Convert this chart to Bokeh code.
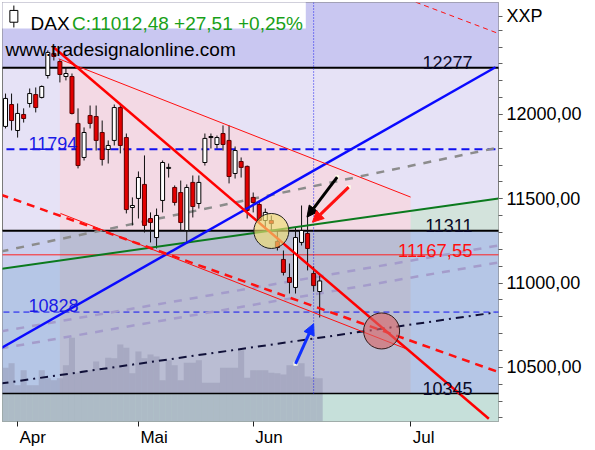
from bokeh.plotting import figure
from bokeh.models import Range1d, FixedTicker, Label, Arrow, NormalHead
from bokeh.embed import file_html
from bokeh.resources import INLINE

# ---------------- data (bar index = trading day) ----------------
opens = [11929, 12059, 11905, 12000, 12065, 12118, 12101, 12231, 12362, 12314, 12225, 12225, 11947, 11745,
         11994, 11988, 11893, 11792, 11846, 12041, 11863, 11448, 11502, 11585, 11383, 11270, 11490, 11680,
         11567, 11537, 11312, 11597, 11472, 11715, 11863, 11822, 11887, 11846, 11650, 11721, 11692, 11508,
         11466, 11371, 11371, 11247, 11140, 11033, 10974, 11241, 11294, 11057, 10950]
highs = [12124, 12124, 12065, 12036, 12154, 12160, 12172, 12380, 12397, 12326, 12279, 12243, 12036, 11923,
         12053, 12053, 11964, 11846, 12059, 12065, 11887, 11508, 11662, 11757, 11419, 11442, 11727, 11709,
         11579, 11608, 11585, 11638, 11638, 11887, 11887, 11875, 11935, 11935, 11810, 11745, 11697, 11537,
         11490, 11442, 11401, 11312, 11193, 11116, 11330, 11460, 11401, 11098, 11045]
lows = [11917, 11905, 11863, 11952, 12041, 12012, 12095, 12213, 12320, 12190, 12202, 12000, 11680, 11727,
        11917, 11786, 11697, 11709, 11816, 11769, 11413, 11342, 11383, 11300, 11241, 11205, 11419, 11626,
        11460, 11312, 11241, 11389, 11442, 11697, 11798, 11798, 11786, 11591, 11620, 11626, 11383, 11419,
        11359, 11324, 11312, 11193, 11045, 10938, 10938, 11223, 11075, 10950, 10796]
closes = [12095, 11964, 12006, 11976, 12124, 12041, 12166, 12368, 12344, 12237, 12243, 12006, 11697, 11893,
          11947, 11846, 11733, 11816, 12041, 11816, 11436, 11460, 11626, 11342, 11359, 11401, 11715, 11686,
          11478, 11359, 11567, 11454, 11597, 11858, 11869, 11863, 11822, 11632, 11786, 11686, 11431, 11478,
          11371, 11419, 11353, 11211, 11063, 11004, 11270, 11312, 11205, 10984.97, 11012.48]
volume = [86, 93, 58, 82, 58, 58, 82, 69, 66, 69, 90, 134, 78, 82, 82, 96, 82, 102, 101, 123, 118, 77, 112,
          101, 107, 104, 66, 98, 90, 66, 94, 94, 98, 62, 62, 62, 86, 86, 86, 114, 70, 82, 82, 82, 78, 77, 75,
          90, 90, 93, 72, 70, 69]

month_ticks = [2, 22, 41, 67]          # first trading day of each month
month_label_pos = [4.5, 24.6, 43.6, 69.2]
month_names = ["Apr", "Mai", "Jun", "Jul"]
price_ticks = [10500, 11000, 11500, 12000]
minor_price_ticks = list(range(10200, 12600, 100))
unit_label = "XXP"
unit_label_pos = 12582

level_top = 12277
level_mid = 11311
level_low = 10345
level_last = 11167.55
level_blue_hi = 11794
level_blue_lo = 10828

# drawn trend lines: (bar index, price) end points
red_trend_x = [8, 80];          red_trend_y = [12397, 10195]
chan_top_x = [8.8, 67.05];      chan_top_y = [12330, 11510]
chan_bot_x = [9.1, 66.2];       chan_bot_y = [11413, 10612]
red_dash_x = [-0.83, 81.6];     red_dash_y = [11525, 10472]
red_dash2_x = [67.9, 81.6];     red_dash2_y = [12666, 12480]
blue_x = [-0.83, 81.1];         blue_y = [10612, 12280]
green_x = [-0.83, 81.6];        green_y = [11084, 11502]
grey_x = [-0.83, 81.6];         grey_y = [11187, 11804]
lav1_x = [-0.83, 81.6];         lav1_y = [10612, 11122]
lav2_x = [-0.83, 81.6];         lav2_y = [10713, 11223]
dashdot_x = [-0.83, 81.1];      dashdot_y = [10404, 10826]
marker_bar = 51
zone_start, zone_end = 9, 67.05

circle_x = [44.0, 62.25];       circle_y = [11309, 10716]
arrow_x0 = [54.9, 56.8, 48.0];  arrow_y0 = [11628, 11569, 10521]
arrow_x1 = [49.9, 50.8, 51.0];  arrow_y1 = [11391, 11361, 10759]
arrow_colors = ["#000000", "#FF1010", "#1030FF"]

# ---------------- figure ----------------
X0, X1 = -0.5, 81.6
Y0, Y1 = 10179, 12664
FONT = "Liberation Sans"

p = figure(width=595, height=450, x_range=Range1d(X0, X1), y_range=Range1d(Y0, Y1),
           y_axis_location="right", output_backend="svg", toolbar_location=None,
           min_border_left=2, min_border_top=2, min_border_right=97, min_border_bottom=29)
p.extra_y_ranges = {"vol": Range1d(0, 670)}
p.background_fill_color = "#E6E2F6"
p.border_fill_color = "white"
p.outline_line_color = "#7A7A7A"
p.xgrid.visible = False
p.ygrid.visible = False

ya = p.yaxis[0]
ya.ticker = FixedTicker(ticks=price_ticks + [unit_label_pos], minor_ticks=minor_price_ticks)
overrides = {t: f"{t:.2f}".replace(".", ",") for t in price_ticks}
overrides[unit_label_pos] = unit_label
ya.major_label_overrides = overrides
ya.major_label_text_font = FONT
ya.major_label_text_font_size = "18px"
ya.major_label_text_color = "#000000"
ya.major_label_standoff = 4
ya.major_tick_in = 0
ya.major_tick_out = 4
ya.minor_tick_in = 0
ya.minor_tick_out = 4
ya.axis_line_color = None
ya.major_tick_line_color = "#606060"
ya.minor_tick_line_color = "#606060"

xa = p.xaxis[0]
xa.ticker = FixedTicker(ticks=month_label_pos, minor_ticks=month_ticks)
xa.major_label_overrides = dict(zip(month_label_pos, month_names))
xa.major_label_text_font = FONT
xa.major_label_text_font_size = "17px"
xa.major_label_text_color = "#000000"
xa.major_label_standoff = 1
xa.major_tick_in = 0
xa.major_tick_out = 0
xa.major_tick_line_color = None
xa.minor_tick_in = 0
xa.minor_tick_out = 5
xa.minor_tick_line_color = "#202020"
xa.axis_line_color = None


def line_at(x, xs, ys):
    return ys[0] + (x - xs[0]) * (ys[1] - ys[0]) / (xs[1] - xs[0])


EX0, EX1 = -2, 84
# background zones
p.quad(left=EX0, right=EX1, bottom=level_top, top=13000, color="#C9C7F1", line_color=None)
cross = green_x[0] + (level_mid - green_y[0]) * (green_x[1] - green_x[0]) / (green_y[1] - green_y[0])
xs3 = [EX0, cross, EX1]
p.varea(x=xs3, y1=[level_low] * 3, y2=[min(level_mid, line_at(x, green_x, green_y)) for x in xs3],
        color="#B5C6E6")
p.varea(x=[EX0, cross], y1=[line_at(EX0, green_x, green_y), level_mid], y2=[level_mid, level_mid],
        color="#CACFEE")
p.varea(x=[cross, EX1], y1=[level_mid, level_mid], y2=[level_mid, line_at(EX1, green_x, green_y)],
        color="#D3E3DC")
p.varea(x=[zone_start, zone_end], y1=[level_mid, level_mid],
        y2=[line_at(zone_start, chan_top_x, chan_top_y), line_at(zone_end, chan_top_x, chan_top_y)],
        color="#F3D9E4")
p.quad(left=zone_start, right=zone_end, bottom=level_low, top=level_mid, color="#BABDD3", line_color=None)
p.quad(left=EX0, right=EX1, bottom=10000, top=level_low, color="#C6E0DA", line_color=None)

# volume
idx = list(range(len(opens)))
p.vbar(x=idx, width=1.0, top=volume, bottom=0, y_range_name="vol", color="#9496B2", alpha=0.5,
       line_color=None)

# header box with candle icon
hdr_bottom = 12510
p.quad(left=EX0, right=49.7, bottom=hdr_bottom, top=13000, color="white", line_color=None)
p.segment(x0=[1.38], y0=[12516], x1=[1.38], y1=[12646], line_color="black", line_width=1)
p.quad(left=[0.72], right=[2.04], bottom=[12547], top=[12617], fill_color="white", line_color="black")

# horizontal levels
p.segment(x0=[EX0, EX0], y0=[level_top, level_mid], x1=[EX1, EX1], y1=[level_top, level_mid],
          line_color="black", line_width=2)
p.segment(x0=[EX0], y0=[level_low], x1=[EX1], y1=[level_low], line_color="black", line_width=1.5)
p.segment(x0=[EX0], y0=[level_last], x1=[EX1], y1=[level_last], line_color="#FF2020", line_width=1)
p.segment(x0=[EX0], y0=[level_blue_hi], x1=[EX1], y1=[level_blue_hi], line_color="#1010F0",
          line_width=2, line_dash="8 5")
p.segment(x0=[EX0], y0=[level_blue_lo], x1=[EX1], y1=[level_blue_lo], line_color="#1010F0",
          line_width=1, line_dash="6 4")
p.segment(x0=[marker_bar], y0=[level_low], x1=[marker_bar], y1=[13000], line_color="#2020F0",
          line_width=1, line_dash="1 2")

# faint channel lines
p.line(lav1_x, lav1_y, line_color="#A49CCB", line_width=2.5, line_dash="8 8")
p.line(lav2_x, lav2_y, line_color="#A49CCB", line_width=2.5, line_dash="8 8")
p.line(grey_x, grey_y, line_color="#8C8C8C", line_width=2.5, line_dash="8 8")

# candles
up = [c >= o for o, c in zip(opens, closes)]
p.segment(x0=idx, y0=lows, x1=idx, y1=highs, line_color="#101010", line_width=1)
p.vbar(x=idx, width=0.66, top=[max(o, c) for o, c in zip(opens, closes)],
       bottom=[min(o, c) for o, c in zip(opens, closes)],
       fill_color=["white" if u else "#E30000" for u in up],
       line_color=["#000000" if u else "#5A0000" for u in up], line_width=1)

# trend lines
p.line(dashdot_x, dashdot_y, line_color="#101038", line_width=2, line_dash="8 5 2 5")
p.line(green_x, green_y, line_color="#0B7A1E", line_width=2)
p.line(blue_x, blue_y, line_color="#0A0AFF", line_width=2.5)
p.line(chan_top_x, chan_top_y, line_color="#FF1010", line_width=1)
p.line(chan_bot_x, chan_bot_y, line_color="#FF1010", line_width=1)
p.line(red_dash_x, red_dash_y, line_color="#FF1010", line_width=2.5, line_dash="8 6")
p.line(red_dash2_x, red_dash2_y, line_color="#FF1010", line_width=1, line_dash="5 4")
p.line(red_trend_x, red_trend_y, line_color="#FF0000", line_width=2.5)

# circles
p.scatter(x=[circle_x[0]], y=[circle_y[0]], size=35, marker="circle", fill_color="#F0DE72",
          fill_alpha=0.65, line_color="#202020", line_width=1)
p.scatter(x=[circle_x[1]], y=[circle_y[1]], size=36, marker="circle", fill_color="#DA6464",
          fill_alpha=0.62, line_color="#301818", line_width=1)

# arrows
for x0, y0, x1, y1, c in zip(arrow_x0, arrow_y0, arrow_x1, arrow_y1, arrow_colors):
    p.add_layout(Arrow(end=NormalHead(size=11, fill_color=c, line_color=c), x_start=x0, y_start=y0,
                       x_end=x1, y_end=y1, line_color=c, line_width=3))
p.scatter(x=arrow_x0, y=arrow_y0, size=4, marker="square", fill_color="#FFFFE8", line_color=None)


# texts
def lab(x, y, text, color="#0A0A28", size="18px", align="left", baseline="alphabetic"):
    p.add_layout(Label(x=x, y=y, text=text, text_color=color, text_font=FONT, text_font_size=size,
                       text_align=align, text_baseline=baseline))


last = closes[-1]
chg = last - closes[-2]
pct = chg / closes[-2] * 100
lab(4.14, 12540, "DAX", color="#000000", size="19px")
lab(11.0, 12540, ("C:%.2f +%.2f +%.2f%%" % (last, chg, pct)).replace(".", ","), color="#18A018",
    size="19px")
lab(0.0, 12385, "www.tradesignalonline.com", color="#000000", size="19px")

lab(77.3, level_top + 31, f"{level_top}", align="right")
lab(77.3, level_mid + 31, f"{level_mid}", align="right")
lab(77.3, level_low + 30, f"{level_low}", align="right")
lab(77.3, level_last + 26, f"{level_last:.2f}".replace(".", ","), color="#FF1010", align="right",
    size="18.5px")
lab(3.8, level_blue_hi + 33, f"{level_blue_hi}", color="#1A1AE6")
lab(3.8, level_blue_lo + 38, f"{level_blue_lo}", color="#1A1AE6")

open("out.html", "w").write(file_html(p, INLINE))
